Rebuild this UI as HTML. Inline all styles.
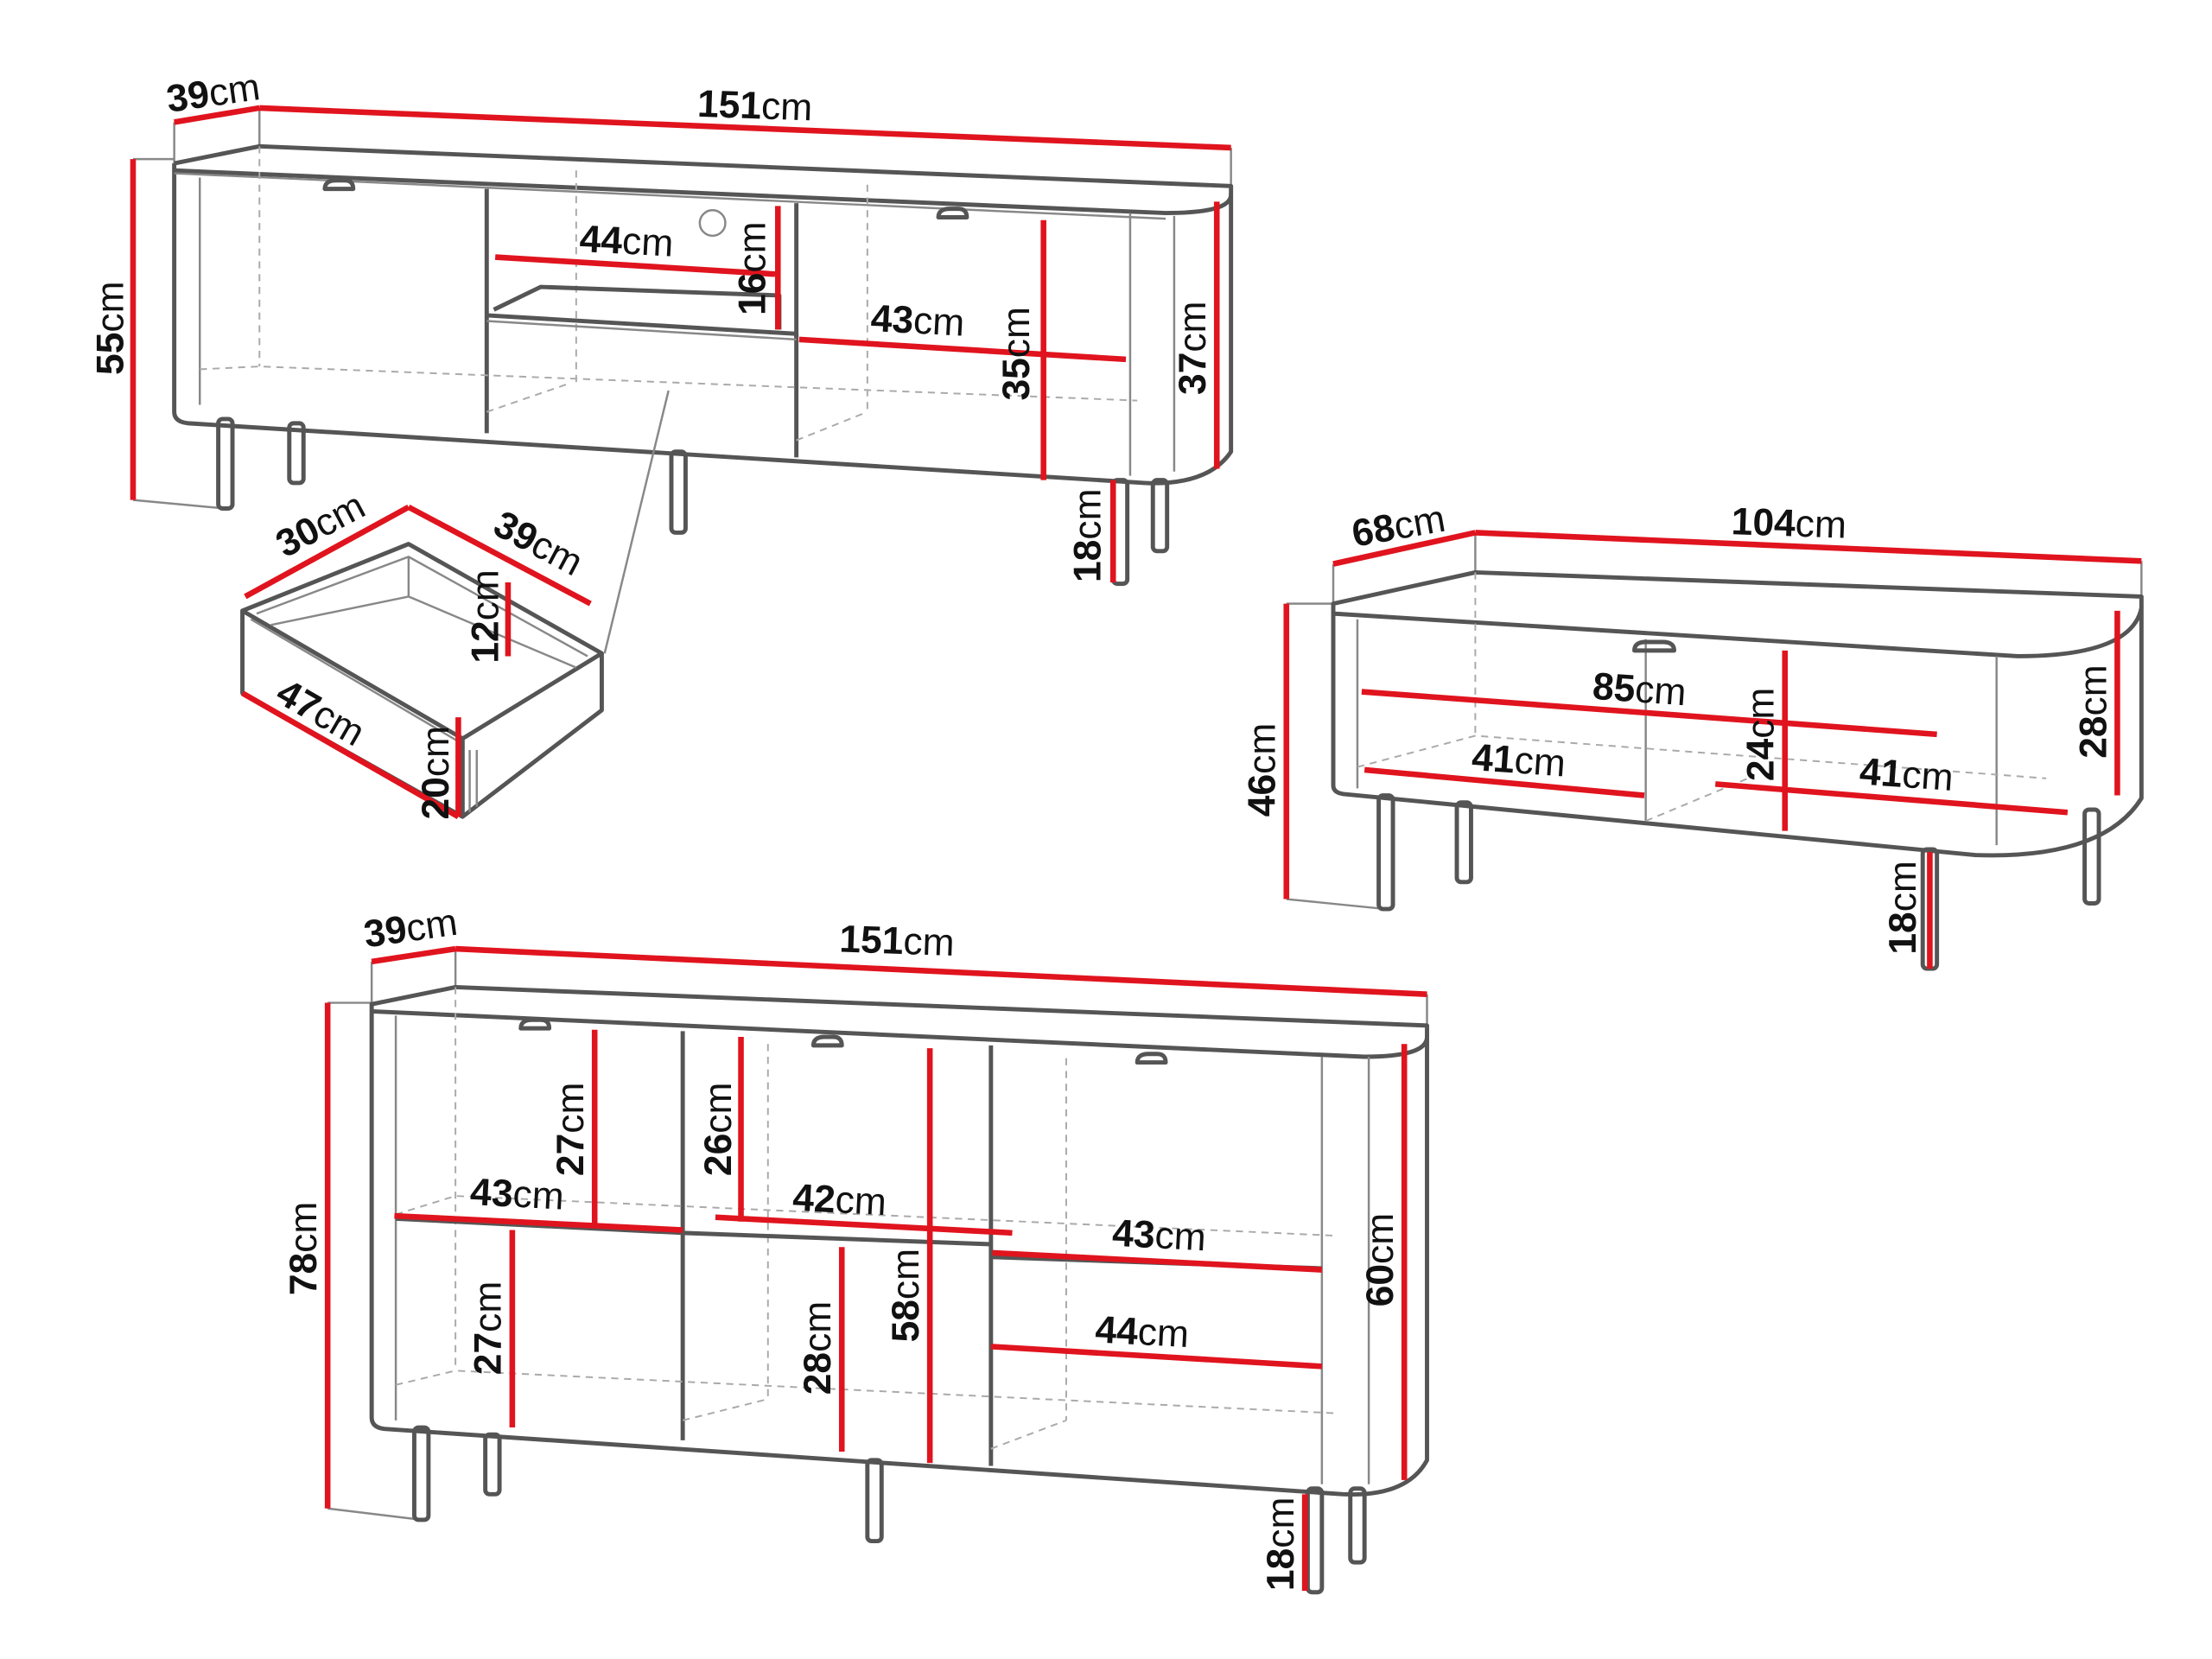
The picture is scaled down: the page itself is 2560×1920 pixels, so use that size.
<!DOCTYPE html>
<html><head><meta charset="utf-8"><style>
html,body{margin:0;padding:0;background:#fff;}
svg{display:block;}
text{font-family:"Liberation Sans",sans-serif;font-size:27px;fill:#111;}
.b{font-weight:bold;}
.o{fill:none;stroke:#555;stroke-width:3;stroke-linejoin:round;}
.t{fill:none;stroke:#888;stroke-width:1.5;}
.d{fill:none;stroke:#aaa;stroke-width:1.2;stroke-dasharray:5 4;}
.r{stroke:#e0141e;stroke-width:4;fill:none;}
.leg{fill:#fff;stroke:#555;stroke-width:3;}
</style></head><body>
<svg width="2560" height="1920" viewBox="0 0 1556 1168" xmlns="http://www.w3.org/2000/svg">
<rect width="1556" height="1168" fill="#fff"/>

<!-- ===== TOP TV STAND ===== -->
<g>
<line class="t" x1="122" y1="86" x2="122" y2="115"/><line class="t" x1="182" y1="76" x2="182" y2="103"/><line class="t" x1="866" y1="104" x2="866" y2="131"/>
<line class="t" x1="93" y1="112" x2="122" y2="112"/><line class="t" x1="93" y1="352" x2="158" y2="358"/>
<!-- legs -->
<rect class="leg" x="153" y="295" width="10" height="63" rx="3"/>
<rect class="leg" x="203" y="298" width="10" height="42" rx="3"/>
<rect class="leg" x="472" y="318" width="10" height="57" rx="3"/>
<rect class="leg" x="783" y="338" width="10" height="73" rx="3"/>
<rect class="leg" x="811" y="338" width="10" height="50" rx="3"/>
<!-- body -->
<path class="o" d="M122,115 L182,103 L866,131 L866,137"/>
<path class="o" d="M122,115 L122,290 Q122,297 132,298 L805,340 Q850,342 866,318 L866,137 Q866,150 820,150 L122,120"/>
<path class="t" d="M122,122 L820,154"/>
<line class="o" x1="342" y1="133" x2="342" y2="305"/>
<line class="o" x1="560" y1="143" x2="560" y2="322"/>
<line class="t" x1="140" y1="125" x2="140" y2="285"/>
<line class="t" x1="795" y1="150" x2="795" y2="335"/>
<line class="t" x1="826" y1="152" x2="826" y2="332"/>
<path class="d" d="M140,260 L182,258 L800,282 M182,103 L182,258 M342,290 L400,270 M560,310 L610,290 M405,120 L405,270 M610,130 L610,290"/>
<path class="o" d="M342,222 L560,235 L560,238 M347,218 L380,202 L548,208 L548,232" />
<line class="t" x1="342" y1="226" x2="560" y2="239"/>
<path class="o" d="M228,133 q0,-6 8,-6 l6,0 q6,0 6,6 z M660,153 q0,-6 8,-6 l6,0 q6,0 6,6 z"/>
<circle class="t" cx="501" cy="157" r="9"/>
<line class="t" x1="470" y1="275" x2="425" y2="460"/>
<!-- dims -->
<line class="r" x1="122" y1="86" x2="182" y2="76"/>
<line class="r" x1="182" y1="76" x2="866" y2="104"/>
<line class="r" x1="348" y1="181" x2="545" y2="193"/>
<line class="r" x1="547" y1="145" x2="547" y2="232"/>
<line class="r" x1="562" y1="239" x2="792" y2="253"/>
<line class="r" x1="734" y1="155" x2="734" y2="338"/>
<line class="r" x1="856" y1="142" x2="856" y2="330"/>
<line class="r" x1="93" y1="112" x2="93" y2="352"/>
<line class="r" x1="783" y1="338" x2="783" y2="410"/>
<text x="118" y="79" transform="rotate(-8 118 79)"><tspan class="b">39</tspan>cm</text>
<text x="490" y="82" transform="rotate(2 490 82)"><tspan class="b">151</tspan>cm</text>
<text x="407" y="177" transform="rotate(3 407 177)"><tspan class="b">44</tspan>cm</text>
<text transform="translate(538,222) rotate(-90)"><tspan class="b">16</tspan>cm</text>
<text x="612" y="233" transform="rotate(3 612 233)"><tspan class="b">43</tspan>cm</text>
<text transform="translate(724,282) rotate(-90)"><tspan class="b">35</tspan>cm</text>
<text transform="translate(848,278) rotate(-90)"><tspan class="b">37</tspan>cm</text>
<text transform="translate(86,264) rotate(-90)"><tspan class="b">55</tspan>cm</text>
<text transform="translate(774,410) rotate(-90)"><tspan class="b">18</tspan>cm</text>
</g>

<!-- ===== DRAWER ===== -->
<g>
<path class="o" d="M170,430 L287,383 L423,460 L423,500 L325,575 L170,488 Z"/>
<path class="o" d="M170,430 L325,520 L423,460 M325,520 L325,575"/>
<path class="t" d="M180,432 L287,392 L413,462 M287,392 L287,420 L190,440 M287,420 L405,470 M330,528 L330,572 M335,528 L335,568"/>
<path class="t" d="M176,436 L322,522"/>
<line class="r" x1="172" y1="420" x2="287" y2="357"/>
<line class="r" x1="287" y1="357" x2="415" y2="425"/>
<line class="r" x1="357" y1="410" x2="357" y2="462"/>
<line class="r" x1="170" y1="488" x2="322" y2="575"/>
<line class="r" x1="322" y1="505" x2="322" y2="575"/>
<text x="200" y="393" transform="rotate(-28 200 393)"><tspan class="b">30</tspan>cm</text>
<text x="345" y="375" transform="rotate(28 345 375)"><tspan class="b">39</tspan>cm</text>
<text transform="translate(350,467) rotate(-90)"><tspan class="b">12</tspan>cm</text>
<text x="192" y="493" transform="rotate(30 192 493)"><tspan class="b">47</tspan>cm</text>
<text transform="translate(315,577) rotate(-90)"><tspan class="b">20</tspan>cm</text>
</g>

<!-- ===== COFFEE TABLE ===== -->
<g>
<line class="t" x1="938" y1="397" x2="938" y2="425"/><line class="t" x1="1038" y1="375" x2="1038" y2="403"/><line class="t" x1="1507" y1="395" x2="1507" y2="420"/>
<line class="t" x1="905" y1="425" x2="938" y2="425"/><line class="t" x1="905" y1="633" x2="975" y2="640"/>
<rect class="leg" x="970" y="560" width="10" height="80" rx="3"/>
<rect class="leg" x="1025" y="565" width="10" height="56" rx="3"/>
<rect class="leg" x="1467" y="570" width="10" height="66" rx="3"/>
<rect class="leg" x="1353" y="598" width="10" height="84" rx="3"/>
<path class="o" d="M938,425 L1038,403 L1507,420 L1507,428"/>
<path class="o" d="M938,425 L938,553 Q938,558 945,559 L1390,602 Q1480,605 1507,562 L1507,428 Q1500,462 1420,462 L938,432 Z"/>
<line class="t" x1="955" y1="436" x2="955" y2="555"/>
<line class="t" x1="1405" y1="462" x2="1405" y2="595"/>
<line class="t" x1="1158" y1="450" x2="1158" y2="578"/>
<path class="d" d="M955,540 L1038,518 L1440,548 M1038,403 L1038,518 M1158,578 L1230,548"/>
<path class="o" d="M1150,458 q0,-6 8,-6 l12,0 q8,0 8,6 z"/>
<line class="r" x1="938" y1="397" x2="1038" y2="375"/>
<line class="r" x1="1038" y1="375" x2="1507" y2="395"/>
<line class="r" x1="958" y1="487" x2="1363" y2="517"/>
<line class="r" x1="1256" y1="458" x2="1256" y2="585"/>
<line class="r" x1="960" y1="542" x2="1157" y2="560"/>
<line class="r" x1="1207" y1="552" x2="1455" y2="572"/>
<line class="r" x1="1490" y1="430" x2="1490" y2="560"/>
<line class="r" x1="905" y1="425" x2="905" y2="633"/>
<line class="r" x1="1358" y1="600" x2="1358" y2="682"/>
<text x="953" y="385" transform="rotate(-10 953 385)"><tspan class="b">68</tspan>cm</text>
<text x="1218" y="376" transform="rotate(2 1218 376)"><tspan class="b">104</tspan>cm</text>
<text x="1120" y="492" transform="rotate(4 1120 492)"><tspan class="b">85</tspan>cm</text>
<text transform="translate(1248,550) rotate(-90)"><tspan class="b">24</tspan>cm</text>
<text x="1035" y="542" transform="rotate(4 1035 542)"><tspan class="b">41</tspan>cm</text>
<text x="1308" y="552" transform="rotate(4 1308 552)"><tspan class="b">41</tspan>cm</text>
<text transform="translate(1482,534) rotate(-90)"><tspan class="b">28</tspan>cm</text>
<text transform="translate(897,575) rotate(-90)"><tspan class="b">46</tspan>cm</text>
<text transform="translate(1348,672) rotate(-90)"><tspan class="b">18</tspan>cm</text>
</g>

<!-- ===== SIDEBOARD ===== -->
<g>
<line class="t" x1="261" y1="677" x2="261" y2="707"/><line class="t" x1="320" y1="668" x2="320" y2="695"/><line class="t" x1="1004" y1="700" x2="1004" y2="722"/>
<line class="t" x1="230" y1="706" x2="261" y2="706"/><line class="t" x1="230" y1="1062" x2="296" y2="1070"/>
<rect class="leg" x="291" y="1005" width="10" height="65" rx="3"/>
<rect class="leg" x="341" y="1010" width="10" height="42" rx="3"/>
<rect class="leg" x="610" y="1028" width="10" height="57" rx="3"/>
<rect class="leg" x="920" y="1048" width="10" height="73" rx="3"/>
<rect class="leg" x="950" y="1048" width="10" height="52" rx="3"/>
<path class="o" d="M261,707 L320,695 L1004,722 L1004,730"/>
<path class="o" d="M261,707 L261,998 Q261,1005 270,1006 L945,1052 Q990,1054 1004,1028 L1004,730 Q1004,744 960,744 L261,712 Z"/>
<line class="o" x1="480" y1="726" x2="480" y2="1014"/>
<line class="o" x1="697" y1="736" x2="697" y2="1032"/>
<line class="t" x1="278" y1="715" x2="278" y2="1000"/>
<line class="t" x1="930" y1="744" x2="930" y2="1045"/>
<line class="t" x1="963" y1="744" x2="963" y2="1045"/>
<path class="d" d="M278,975 L320,965 L940,995 M320,695 L320,965 M278,855 L320,842 L940,870 M480,1000 L540,985 M697,1020 L750,1000 M540,735 L540,985 M750,745 L750,1000"/>
<path class="o" d="M278,858 L480,868 M480,868 L697,876 M697,885 L930,893"/>
<path class="o" d="M366,724 q0,-6 8,-6 l6,0 q6,0 6,6 z M572,736 q0,-6 8,-6 l6,0 q6,0 6,6 z M800,748 q0,-6 8,-6 l6,0 q6,0 6,6 z"/>
<line class="r" x1="261" y1="677" x2="320" y2="668"/>
<line class="r" x1="320" y1="668" x2="1004" y2="700"/>
<line class="r" x1="418" y1="725" x2="418" y2="862"/>
<line class="r" x1="277" y1="856" x2="480" y2="866"/>
<line class="r" x1="360" y1="866" x2="360" y2="1005"/>
<line class="r" x1="521" y1="730" x2="521" y2="860"/>
<line class="r" x1="503" y1="857" x2="712" y2="868"/>
<line class="r" x1="592" y1="878" x2="592" y2="1022"/>
<line class="r" x1="654" y1="738" x2="654" y2="1030"/>
<line class="r" x1="698" y1="882" x2="930" y2="894"/>
<line class="r" x1="697" y1="948" x2="930" y2="962"/>
<line class="r" x1="988" y1="735" x2="988" y2="1042"/>
<line class="r" x1="230" y1="706" x2="230" y2="1062"/>
<line class="r" x1="918" y1="1052" x2="918" y2="1120"/>
<text x="257" y="667" transform="rotate(-8 257 667)"><tspan class="b">39</tspan>cm</text>
<text x="590" y="670" transform="rotate(2 590 670)"><tspan class="b">151</tspan>cm</text>
<text transform="translate(410,828) rotate(-90)"><tspan class="b">27</tspan>cm</text>
<text x="330" y="848" transform="rotate(3 330 848)"><tspan class="b">43</tspan>cm</text>
<text transform="translate(352,968) rotate(-90)"><tspan class="b">27</tspan>cm</text>
<text transform="translate(514,828) rotate(-90)"><tspan class="b">26</tspan>cm</text>
<text x="557" y="852" transform="rotate(3 557 852)"><tspan class="b">42</tspan>cm</text>
<text transform="translate(584,982) rotate(-90)"><tspan class="b">28</tspan>cm</text>
<text transform="translate(646,945) rotate(-90)"><tspan class="b">58</tspan>cm</text>
<text x="782" y="877" transform="rotate(3 782 877)"><tspan class="b">43</tspan>cm</text>
<text x="770" y="945" transform="rotate(3 770 945)"><tspan class="b">44</tspan>cm</text>
<text transform="translate(980,920) rotate(-90)"><tspan class="b">60</tspan>cm</text>
<text transform="translate(222,912) rotate(-90)"><tspan class="b">78</tspan>cm</text>
<text transform="translate(910,1120) rotate(-90)"><tspan class="b">18</tspan>cm</text>
</g>
</svg>
</body></html>
